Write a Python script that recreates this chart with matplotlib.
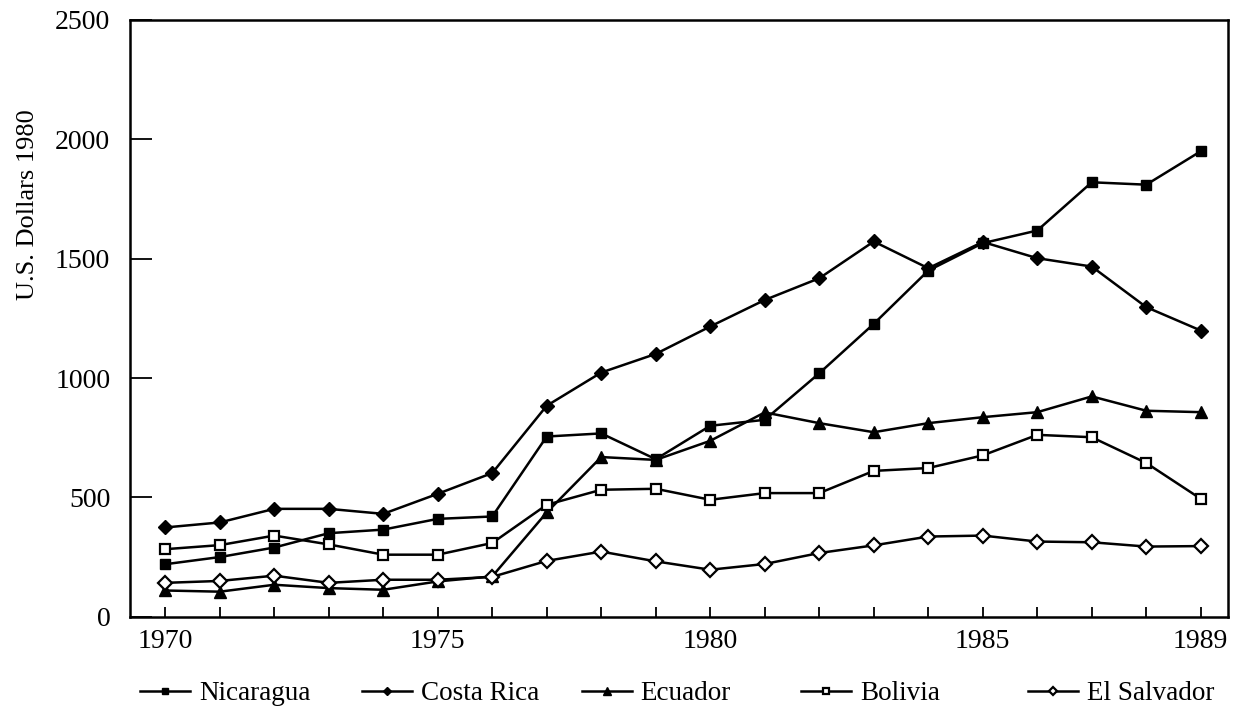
import matplotlib.pyplot as plt

years = list(range(1970, 1990))

nicaragua = [220, 250, 290, 350, 365, 410, 420, 755, 768, 660, 800, 825,
             1020, 1227, 1450, 1565, 1618, 1820, 1810, 1950]
costa_rica = [374, 395, 452, 452, 431, 515, 602, 884, 1023, 1101, 1216, 1327,
              1418, 1572, 1460, 1570, 1502, 1467, 1297, 1199]
ecuador = [110, 105, 134, 120, 113, 148, 169, 437, 669, 657, 737, 856,
           811, 773, 811, 836, 857, 923, 863, 857]
bolivia = [283, 300, 340, 303, 260, 260, 309, 469, 532, 536, 490, 518,
           518, 611, 623, 676, 762, 752, 644, 494]
el_salvador = [142, 150, 172, 142, 155, 155, 167, 234, 273, 232, 197, 221,
               267, 299, 336, 340, 315, 312, 294, 296]

labelled_years = [1970, 1975, 1980, 1985, 1989]
y_ticks = [0, 500, 1000, 1500, 2000, 2500]

plt.rcParams['font.family'] = ['Liberation Serif', 'DejaVu Serif']

fig = plt.figure(figsize=(12.48, 7.13), dpi=100)
ax = fig.add_axes([0.104, 0.135, 0.88, 0.837])

style = dict(color='black', linewidth=1.8)
lines = []
lines += ax.plot(years, nicaragua, marker='s', markersize=7.5, markerfacecolor='black',
                 label='Nicaragua', **style)
lines += ax.plot(years, costa_rica, marker='D', markersize=7, markerfacecolor='black',
                 label='Costa Rica', **style)
lines += ax.plot(years, ecuador, marker='^', markersize=8.5, markerfacecolor='black',
                 label='Ecuador', **style)
lines += ax.plot(years, bolivia, marker='s', markersize=7.5, markerfacecolor='white',
                 markeredgewidth=1.6, label='Bolivia', **style)
lines += ax.plot(years, el_salvador, marker='D', markersize=7, markerfacecolor='white',
                 markeredgewidth=1.6, label='El Salvador', **style)

ax.set_xlim(1969.35, 1989.5)
ax.set_ylim(0, 2500)
ax.set_xticks(years)
ax.set_xticklabels([str(y) if y in labelled_years else '' for y in years])
ax.set_yticks(y_ticks)
ax.tick_params(axis='x', direction='in', length=7, width=1.3, labelsize=20, pad=9)
ax.tick_params(axis='y', direction='in', length=16, width=1.3, labelsize=20, pad=14)
for sp in ax.spines.values():
    sp.set_linewidth(1.8)

ax.set_ylabel('U.S. Dollars 1980', fontsize=19)
ax.yaxis.set_label_coords(-0.083, 0.69)

# legend entries sit on evenly spaced tab stops below the axes
legend_x = [0.112, 0.290, 0.466, 0.642, 0.824]
for line, lx in zip(lines, legend_x):
    leg = fig.legend([line], [line.get_label()], loc='center left',
                     bbox_to_anchor=(lx, 0.027), frameon=False, fontsize=19.5,
                     handlelength=1.85, handletextpad=0.33, borderpad=0,
                     borderaxespad=0, markerscale=0.6)

fig.savefig('out.png', dpi=100)
